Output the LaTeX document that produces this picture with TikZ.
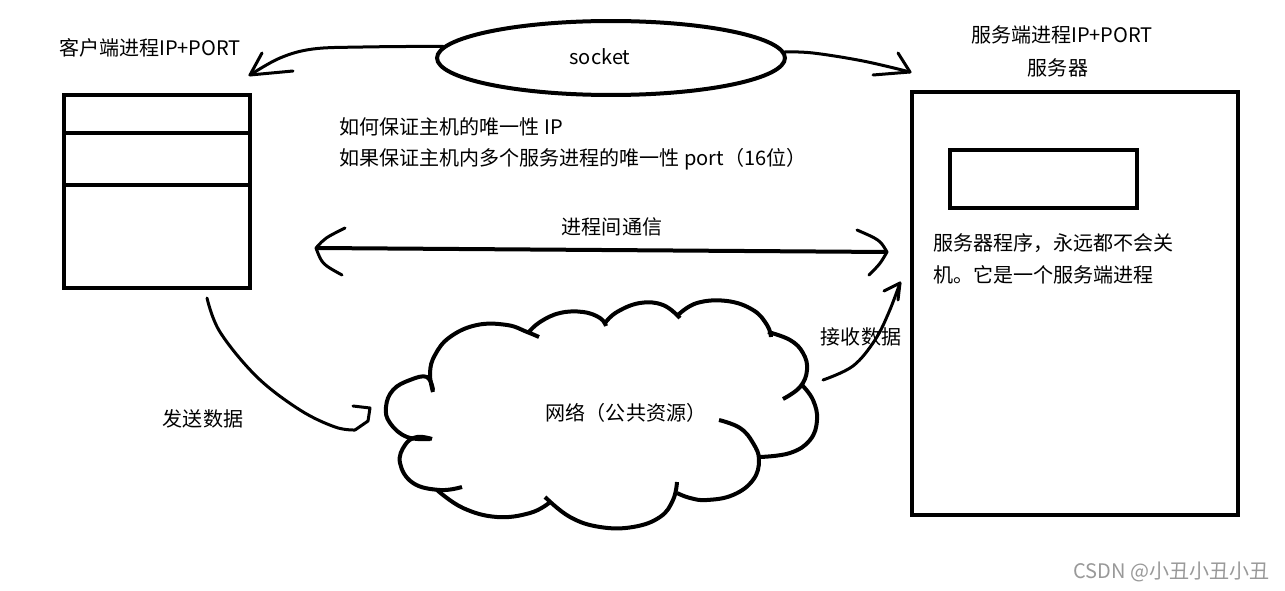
\documentclass[tikz,border=0pt]{standalone}
\usepackage{fontspec}
\setmainfont{Noto Sans CJK SC}
\usetikzlibrary{shapes.geometric}
\begin{document}
\begin{tikzpicture}[x=0.02cm,y=-0.02cm,
  hand/.style={line width=0.06cm, line cap=round, line join=round},
  cloudline/.style={line width=0.08cm},
  lbl/.style={inner sep=0pt, font=\fontsize{11.4pt}{13pt}\selectfont},
  box/.style={draw, line width=0.08cm, inner sep=0pt}]
\fill[white] (0,0) rectangle (1285,591);
\useasboundingbox (0,0) rectangle (1285,591);

% client box
\node[box, minimum width=3.72cm, minimum height=3.86cm] (client) at (157,191.5) {};
\draw[line width=0.08cm] (64,133) -- (250,133);
\draw[line width=0.08cm] (64,185) -- (250,185);

% server box
\node[box, minimum width=6.52cm, minimum height=8.46cm] (server) at (1075,303.5) {};
\node[box, minimum width=3.74cm, minimum height=1.16cm] (prog) at (1043.5,179) {};

% socket ellipse
\node[draw, ellipse, line width=0.08cm, minimum width=6.96cm, minimum height=1.48cm, inner sep=0pt] (sock) at (611,58) {};
\node[lbl] (socktxt) at (600,57) {socket};

% labels
\node[lbl] (clientlbl) at (150,48) {客户端进程IP+PORT};
\node[lbl] (serverlbl) at (1062,35) {服务端进程IP+PORT};
\node[lbl] (serverlbl2) at (1058,68) {服务器};
\node[lbl, anchor=west] (q1) at (339,127) {如何保证主机的唯一性 IP};
\node[lbl, anchor=west] (q2) at (339,159) {如果保证主机内多个服务进程的唯一性 port（16位）};
\node[lbl] (ipc) at (612,227) {进程间通信};
\node[lbl, anchor=west] (desc1) at (933,243) {服务器程序，永远都不会关};
\node[lbl, anchor=west] (desc2) at (933,275) {机。它是一个服务端进程};
\node[lbl] (send) at (203,419) {发送数据};
\node[lbl] (recv) at (861,337) {接收数据};
\node[lbl] (net) at (626,413) {网络（公共资源）};
\node[lbl, text=black!40, anchor=east] (wm) at (1270,572) {CSDN @小丑小丑小丑};

% socket -> client
\coordinate (clA) at (250,75);
\draw[hand] plot[smooth, tension=0.6] coordinates {(sock.176) (363,47) (313,49) (280,58) (clA)};
\draw[hand] (262,53) -- (clA) -- (293,71);

% socket -> server
\coordinate (srA) at (910,72);
\draw[hand] plot[smooth, tension=0.6] coordinates {(sock.2) (813,53) (863,61) (srA)};
\draw[hand] (898,53) -- (srA) -- (873,75);

% inter-process double arrow
\coordinate (ipcL) at (316,248);
\coordinate (ipcR) at (887,252);
\draw[line width=0.08cm] (ipcL) -- (ipcR);
\draw[hand] (345,228) .. controls (325,238) .. (ipcL) .. controls (322,264) .. (342,275);
\draw[hand] (857,230) .. controls (880,240) .. (ipcR) .. controls (880,264) .. (869,275);

% send data
\coordinate (sendS) at (207,298);
\coordinate (sendE) at (355,430);
\draw[hand] plot[smooth, tension=0.6] coordinates {(sendS) (220,332) (257,377) (300,410) (335,427) (sendE)};
\draw[hand] (sendE) -- (368,421) -- (370,408) -- (353,406);

% receive data
\coordinate (recvS) at (823,380);
\coordinate (recvE) at (900,283);
\draw[hand] plot[smooth, tension=0.6] coordinates {(recvS) (853,366) (875,340) (889,312) (recvE)};
\draw[hand] (884,291) -- (recvE) -- (898,300);

% cloud
\draw[cloudline] plot[smooth, tension=0.7] coordinates {(433,392) (430,373) (435,355) (450,337) (477,325) (507,325) (527,332) (539,337)};
\draw[cloudline] plot[smooth, tension=0.7] coordinates {(528,333) (540,322) (560,313) (583,312) (600,318) (606,326)};
\draw[cloudline] plot[smooth, tension=0.7] coordinates {(605,323) (617,312) (640,303) (663,305) (680,318)};
\draw[cloudline] plot[smooth, tension=0.7] coordinates {(678,315) (697,303) (727,301) (753,310) (767,325) (771,337)};
\draw[cloudline] plot[smooth, tension=0.7] coordinates {(768,332) (790,340) (803,353) (807,370) (800,387) (783,399)};
\draw[cloudline] plot[smooth, tension=0.7] coordinates {(802,385) (813,400) (817,420) (810,440) (790,453) (760,457)};
\draw[cloudline] plot[smooth, tension=0.7] coordinates {(719,420) (740,428) (753,443) (759,460) (753,480) (733,495) (707,500) (690,498) (677,493)};
\draw[cloudline] plot[smooth, tension=0.7] coordinates {(677,482) (673,500) (660,517) (633,527) (600,527) (570,517) (545,497)};
\draw[cloudline] plot[smooth, tension=0.7] coordinates {(549,503) (530,513) (497,517) (463,508) (437,490)};
\draw[cloudline] plot[smooth, tension=0.7] coordinates {(462,487) (440,490) (413,483) (400,463) (405,445) (417,437) (432,439)};
\draw[cloudline] plot[smooth, tension=0.7] coordinates {(430,439) (407,437) (390,423) (386,407) (393,390) (410,380) (427,377) (433,390)};
\end{tikzpicture}
\end{document}
